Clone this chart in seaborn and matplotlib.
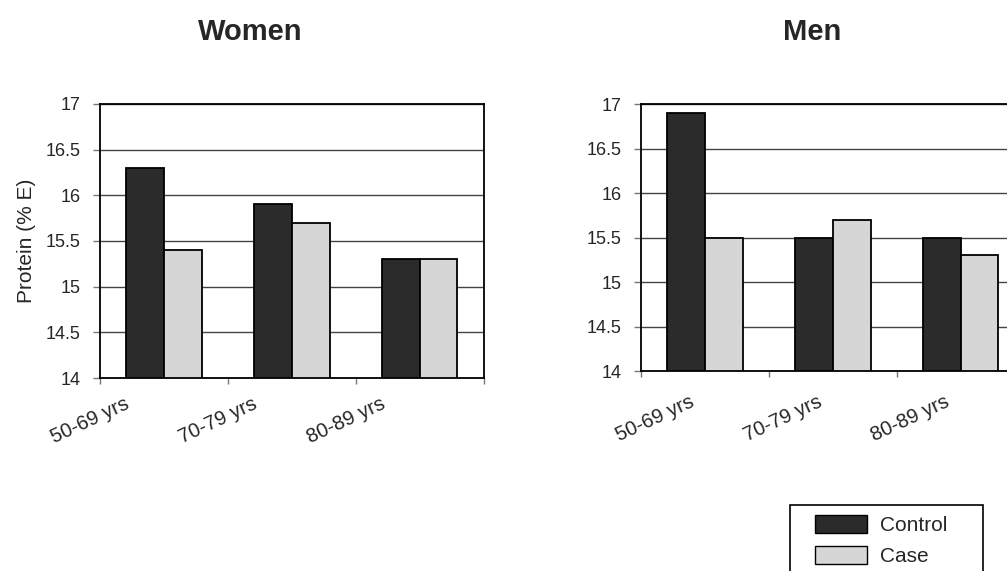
import pandas as pd
import matplotlib.pyplot as plt
import matplotlib.transforms as mtransforms
from matplotlib.patches import Patch, Rectangle
from matplotlib.ticker import FixedLocator
import seaborn as sns

ages = ["50-69 yrs", "70-79 yrs", "80-89 yrs"]
groups = ["Control", "Case"]
women_control = [16.3, 15.9, 15.3]
women_case = [15.4, 15.7, 15.3]
men_control = [16.9, 15.5, 15.5]
men_case = [15.5, 15.7, 15.3]

colors = {"Control": "#2b2b2b", "Case": "#d6d6d6"}


def long_df(control, case):
    return pd.DataFrame({
        "age": ages * 2,
        "group": ["Control"] * 3 + ["Case"] * 3,
        "value": control + case,
    })


sns.set_style("white")
plt.rcParams["font.family"] = ["Liberation Sans", "DejaVu Sans"]

fig = plt.figure(figsize=(10.07, 5.71), dpi=100)
ax_w = fig.add_axes([0.0993, 0.338, 0.381, 0.480])
ax_m = fig.add_axes([0.6365, 0.350, 0.381, 0.4676])

for ax, ctrl, case, xoff, xpad in [(ax_w, women_control, women_case, -0.40, 8),
                                   (ax_m, men_control, men_case, -0.16, 11.5)]:
    df = long_df(ctrl, case)
    sns.barplot(data=df, x="age", y="value", hue="group", hue_order=groups,
                palette=colors, width=0.59, gap=0, edgecolor="black",
                linewidth=1.3, legend=False, ax=ax)
    ax.set_ylim(14, 17)
    ax.set_xlim(-0.5, 2.5)
    ax.set_yticks([14, 14.5, 15, 15.5, 16, 16.5, 17])
    ax.set_yticklabels(["14", "14.5", "15", "15.5", "16", "16.5", "17"])
    ax.yaxis.grid(True, color="#444444", linewidth=1)
    ax.set_axisbelow(True)
    for s in ax.spines.values():
        s.set_color("black")
        s.set_linewidth(1.3)
    ax.tick_params(axis="y", which="major", left=True, length=5, width=1,
                   labelsize=13, pad=9, color="#777777")
    ax.tick_params(axis="x", which="major", bottom=False, labelsize=14.5,
                   pad=xpad)
    ax.xaxis.set_minor_locator(FixedLocator([-0.5, 0.5, 1.5, 2.5]))
    ax.tick_params(axis="x", which="minor", bottom=True, length=4, width=1,
                   color="#777777")
    offset = mtransforms.ScaledTranslation(xoff, 0, fig.dpi_scale_trans)
    for lab in ax.get_xticklabels():
        lab.set_rotation(25)
        lab.set_ha("right")
        lab.set_rotation_mode("anchor")
        lab.set_transform(lab.get_transform() + offset)
    ax.set_xlabel("")
    ax.set_ylabel("")

ax_w.set_ylabel("Protein (% E)", fontsize=15, labelpad=7)

fig.text(0.248, 0.944, "Women", ha="center", va="center",
         fontsize=21, fontweight="bold")
fig.text(0.806, 0.944, "Men", ha="center", va="center",
         fontsize=21, fontweight="bold")

# legend box (wider than its content, as in the original)
fig.patches.append(Rectangle((0.7845, -0.02), 0.1917, 0.1356,
                             transform=fig.transFigure, facecolor="white",
                             edgecolor="black", linewidth=1.2))
handles = [Patch(facecolor=colors[g], edgecolor="black", label=g) for g in groups]
leg = fig.legend(handles=handles, loc="upper left",
                 bbox_to_anchor=(0.8093, 0.0975), frameon=False,
                 fontsize=15, handlelength=2.5, handleheight=0.95,
                 borderpad=0, borderaxespad=0, labelspacing=0.5,
                 handletextpad=0.6)

fig.savefig("out.png", dpi=100)
